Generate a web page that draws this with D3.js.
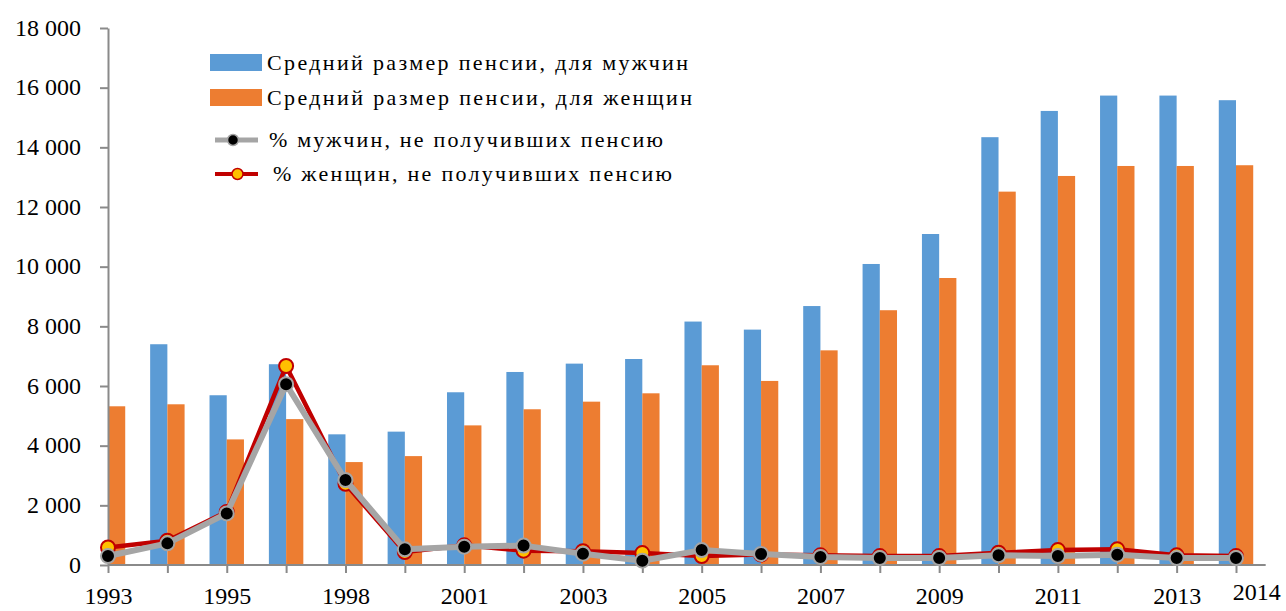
<!DOCTYPE html>
<html>
<head>
<meta charset="utf-8">
<script src="https://cdn.jsdelivr.net/npm/d3@7"></script>
<style>
  html, body { margin: 0; padding: 0; background: #ffffff; }
  svg { display: block; }
  text { font-family: "Liberation Serif", "Times New Roman", serif; fill: #000; }
</style>
</head>
<body>
<svg id="chart" width="1286" height="611"></svg>
<script>
// ---- data ----
const categories = ["1993","1994","1995","1996","1998","2000","2001","2002","2003","2004",
                    "2005","2006","2007","2008","2009","2010","2011","2012","2013","2014"];
const shownLabels = ["1993","1995","1998","2001","2003","2005","2007","2009","2011","2013","2014"];
const menPension = [0, 7400, 5690, 6730, 4380, 4470, 5790, 6470, 6750, 6905,
                    8160, 7890, 8680, 10090, 11095, 14340, 15220, 15735, 15735, 15580];
const womenPension = [5320, 5387, 4210, 4890, 3450, 3650, 4680, 5220, 5475, 5755,
                      6695, 6170, 7195, 8540, 9620, 12515, 13040, 13375, 13375, 13400];
const menNoPension = [300, 725, 1730, 6060, 2850, 525, 615, 650, 380, 145,
                      500, 370, 270, 235, 235, 325, 300, 345, 235, 235];
const womenNoPension = [590, 815, 1780, 6670, 2720, 435, 660, 480, 460, 400,
                        300, 350, 325, 300, 300, 410, 500, 525, 325, 300];
const yTicks = [0, 2000, 4000, 6000, 8000, 10000, 12000, 14000, 16000, 18000];
const legendLabels = [
  "Средний размер пенсии, для мужчин",
  "Средний размер пенсии, для женщин",
  "% мужчин, не получивших пенсию",
  "% женщин, не получивших пенсию"
];

(function () {
// ---- styles ----
const C = {
  blue: "#5b9bd5", orange: "#ed7d31", gray: "#a5a5a5", red: "#c00000",
  yellow: "#ffc000", axis: "#8a8a8a"
};

const svg = d3.select("#chart");
const pLeft = 108, pRight = 1236, pTop = 28, pBottom = 565;

const x = d3.scalePoint().domain(categories).range([pLeft, pRight]);
const y = d3.scaleLinear().domain([0, 18000]).range([pBottom, pTop]);
const barW = x.step() * 0.29;

const fmt = v => d3.format(",")(v).replace(/,/g, " ");

// bars
const g = svg.append("g");
g.selectAll("rect.men").data(categories).join("rect")
  .attr("class", "men")
  .attr("x", d => x(d) - barW)
  .attr("width", barW)
  .attr("y", (d, i) => y(menPension[i]))
  .attr("height", (d, i) => y(0) - y(menPension[i]))
  .attr("fill", C.blue);
g.selectAll("rect.women").data(categories).join("rect")
  .attr("class", "women")
  .attr("x", d => x(d))
  .attr("width", barW)
  .attr("y", (d, i) => y(womenPension[i]))
  .attr("height", (d, i) => y(0) - y(womenPension[i]))
  .attr("fill", C.orange);

// axes
const yAxis = svg.append("g")
  .attr("transform", `translate(${pLeft},0)`)
  .call(d3.axisLeft(y).tickValues(yTicks).tickFormat(fmt).tickSize(8).tickSizeOuter(0).tickPadding(19));
yAxis.selectAll("text").style("font-size", "24px").attr("dy", "0.3em");

const xAxis = svg.append("g")
  .attr("transform", `translate(0,${pBottom})`)
  .call(d3.axisBottom(x).tickSize(8).tickSizeOuter(0).tickPadding(14)
    .tickFormat(d => shownLabels.includes(d) ? d : ""));
xAxis.select(".domain").attr("d", `M${x.range()[0]},0H${x(categories[categories.length - 1]) + x.step() / 2}`);
xAxis.selectAll("text").style("font-size", "24px");
xAxis.selectAll(".tick").filter(d => d === categories[categories.length - 1])
  .select("text").attr("dx", x.step() * 0.34).attr("y", 18);

svg.selectAll(".domain, .tick line").attr("stroke", C.axis).attr("stroke-width", 2);

// lines
const lineGen = d3.line().x(d => x(d.c)).y(d => y(d.v));
const womenPts = categories.map((c, i) => ({ c, v: womenNoPension[i] }));
const menPts = categories.map((c, i) => ({ c, v: menNoPension[i] }));

svg.append("path").datum(womenPts).attr("d", lineGen)
  .attr("fill", "none").attr("stroke", C.red).attr("stroke-width", 4.5).attr("stroke-linejoin", "round");
svg.selectAll("circle.w").data(womenPts).join("circle").attr("class", "w")
  .attr("cx", d => x(d.c)).attr("cy", d => y(d.v)).attr("r", 7)
  .attr("fill", C.yellow).attr("stroke", C.red).attr("stroke-width", 2);
svg.append("path").datum(menPts).attr("d", lineGen)
  .attr("fill", "none").attr("stroke", C.gray).attr("stroke-width", 6).attr("stroke-linejoin", "round");
svg.selectAll("circle.m").data(menPts).join("circle").attr("class", "m")
  .attr("cx", d => x(d.c)).attr("cy", d => y(d.v)).attr("r", 7)
  .attr("fill", "#000").attr("stroke", C.gray).attr("stroke-width", 2);

// legend
const legend = svg.append("g");
const legendRows = [
  { label: legendLabels[0], type: "rect", color: C.blue, y: 62.5, tx: 267, w: 421 },
  { label: legendLabels[1], type: "rect", color: C.orange, y: 97.5, tx: 267, w: 425 },
  { label: legendLabels[2], type: "line", color: C.gray, dot: "#000", dotStroke: C.gray, lw: 5, y: 140, tx: 269, w: 394, dx: 233 },
  { label: legendLabels[3], type: "line", color: C.red, dot: C.yellow, dotStroke: C.red, lw: 4, y: 174, tx: 273, w: 399, dx: 237.5 }
];
legendRows.forEach(r => {
  if (r.type === "rect") {
    legend.append("rect").attr("x", 210).attr("y", r.y - 8.5).attr("width", 52).attr("height", 17).attr("fill", r.color);
  } else {
    legend.append("line").attr("x1", 215).attr("x2", 258).attr("y1", r.y).attr("y2", r.y)
      .attr("stroke", r.color).attr("stroke-width", r.lw);
    legend.append("circle").attr("cx", r.dx).attr("cy", r.y).attr("r", 5.5)
      .attr("fill", r.dot).attr("stroke", r.dotStroke).attr("stroke-width", 1.5);
  }
  legend.append("text").attr("x", r.tx).attr("y", r.y + 7)
    .style("font-size", "22px")
    .attr("textLength", r.w).attr("lengthAdjust", "spacing")
    .text(r.label);
});
})();
</script>
</body>
</html>
